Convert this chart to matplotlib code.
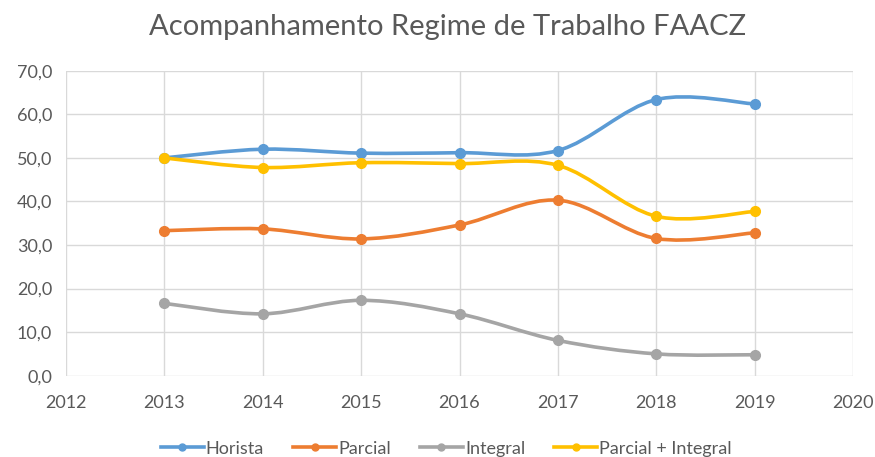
import numpy as np
import matplotlib.pyplot as plt
from matplotlib.path import Path
from matplotlib.patches import PathPatch
from matplotlib.ticker import FuncFormatter

anos = [2013, 2014, 2015, 2016, 2017, 2018, 2019]
horista = [50.0, 52.0, 51.1, 51.2, 51.7, 63.4, 62.4]
parcial = [33.3, 33.7, 31.4, 34.6, 40.3, 31.5, 32.8]
integral = [16.6, 14.2, 17.3, 14.2, 8.1, 5.0, 4.8]
parcial_integral = [50.0, 47.8, 48.9, 48.7, 48.3, 36.6, 37.7]

series = [('Horista', horista, '#5B9BD5'),
          ('Parcial', parcial, '#ED7D31'),
          ('Integral', integral, '#A5A5A5'),
          ('Parcial + Integral', parcial_integral, '#FFC000')]

plt.rcParams['font.family'] = ['Lato', 'DejaVu Sans']
txt = '#595959'


def smooth_path(x, y):
    # Excel style smoothed line: cubic bezier, Catmull-Rom tangents
    x = np.asarray(x, float)
    y = np.asarray(y, float)
    n = len(x)
    verts = [(x[0], y[0])]
    codes = [Path.MOVETO]
    for i in range(n - 1):
        p0 = np.array([x[max(i - 1, 0)], y[max(i - 1, 0)]])
        p1 = np.array([x[i], y[i]])
        p2 = np.array([x[i + 1], y[i + 1]])
        p3 = np.array([x[min(i + 2, n - 1)], y[min(i + 2, n - 1)]])
        c1 = p1 + (p2 - p0) / 6.0
        c2 = p2 - (p3 - p1) / 6.0
        verts += [tuple(c1), tuple(c2), tuple(p2)]
        codes += [Path.CURVE4] * 3
    return Path(verts, codes)


fig = plt.figure(figsize=(8.75, 4.57), dpi=100)
ax = fig.add_axes([0.0754, 0.178, 0.8995, 0.667])

for nome, vals, cor in series:
    patch = PathPatch(smooth_path(anos, vals), facecolor='none', edgecolor=cor,
                      lw=2.6, capstyle='round', zorder=3)
    ax.add_patch(patch)
    ax.plot(anos, vals, 'o', color=cor, ms=7, zorder=4)
    ax.plot([], [], '-o', color=cor, lw=2.6, ms=5, label=nome)

ax.set_xlim(2012, 2020)
ax.set_ylim(0, 70)
ax.set_xticks(range(2012, 2021))
ax.set_yticks(range(0, 71, 10))
ax.yaxis.set_major_formatter(FuncFormatter(lambda v, p: ('%.1f' % v).replace('.', ',')))
ax.grid(True, color='#d9d9d9', lw=1)
ax.set_axisbelow(True)
for s in ax.spines.values():
    s.set_visible(False)
ax.tick_params(length=0, labelsize=13, labelcolor=txt, pad=10)
ax.tick_params(axis='x', pad=14)

fig.suptitle('Acompanhamento Regime de Trabalho FAACZ', x=0.512, y=0.97,
             fontsize=21, color=txt)

fig.legend(loc='lower center', bbox_to_anchor=(0.51, -0.035), ncol=4, frameon=False,
           fontsize=13, labelcolor=txt, handlelength=2.4, handletextpad=0.1,
           columnspacing=1.6)

fig.savefig('out.png', dpi=100)
